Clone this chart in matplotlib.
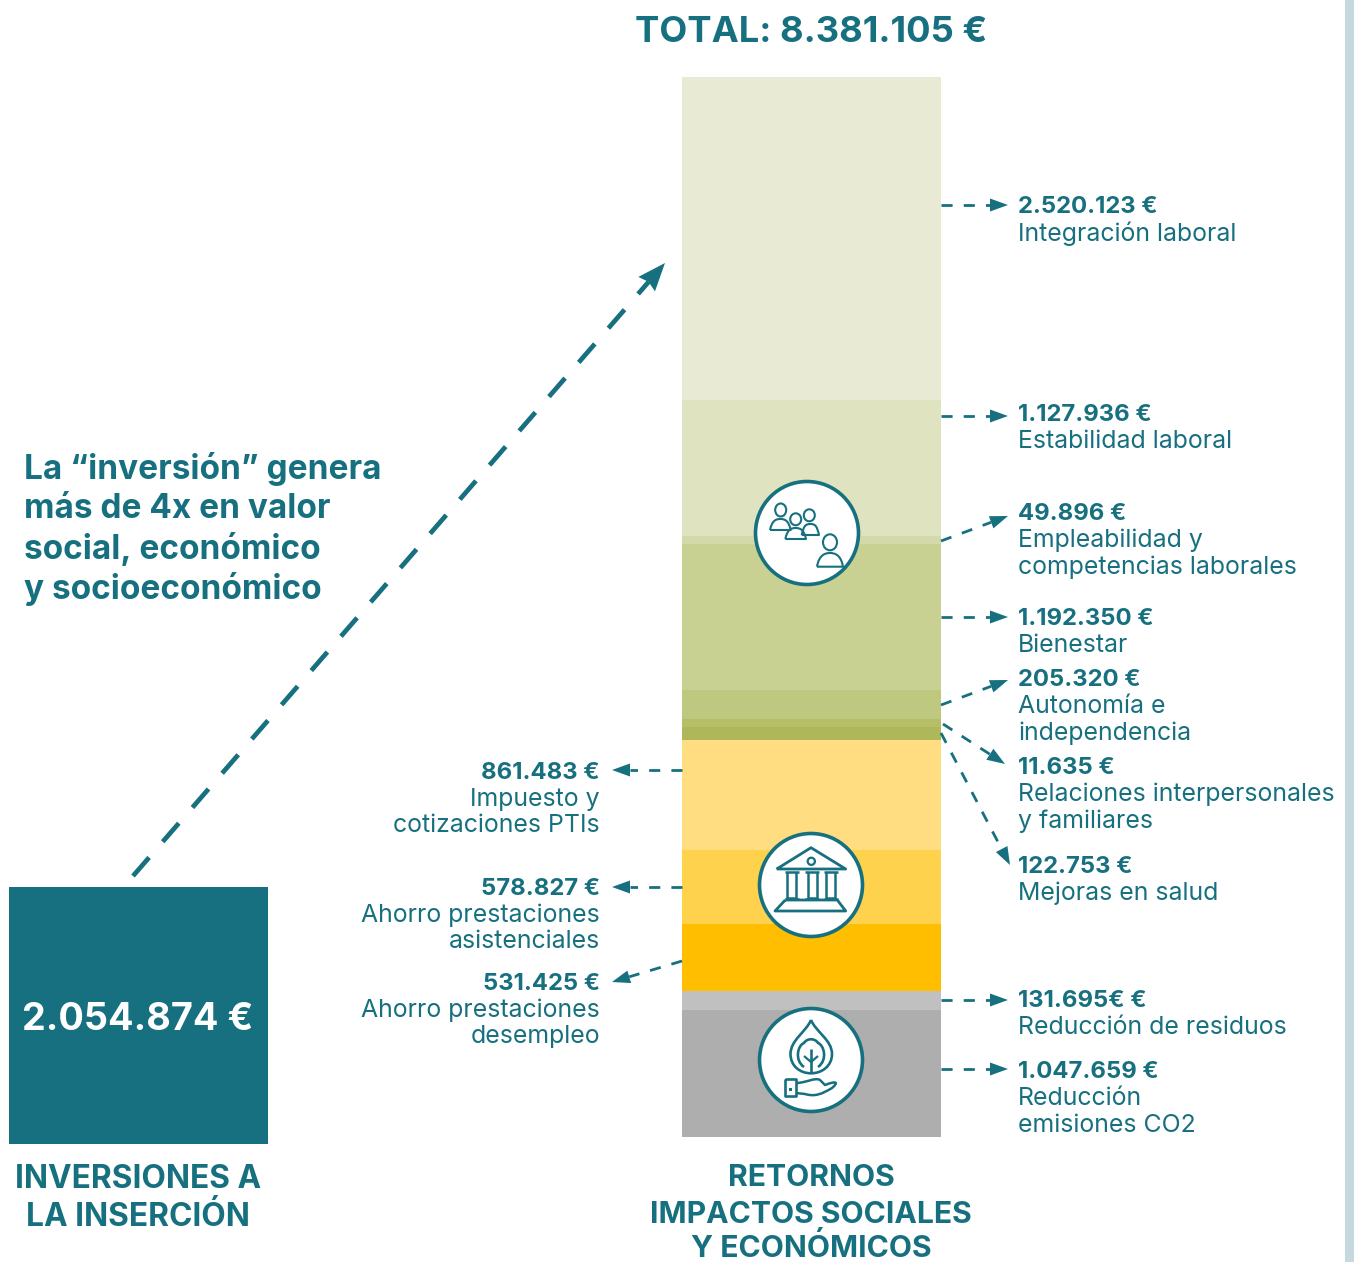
import numpy as np
import matplotlib
matplotlib.use("Agg")
import matplotlib.pyplot as plt
from matplotlib.patches import Circle, Ellipse, PathPatch, Polygon, Rectangle
from matplotlib.path import Path

W, H = 1354, 1262
TEAL = "#17707f"
plt.rcParams["font.family"] = ["Inter", "DejaVu Sans"]

# stacked segments, top to bottom, heights as drawn in the picture (thousand euro)
segments = [2554, 1075, 63, 1154, 229, 63, 103, 870, 585, 530, 150, 1004]
segment_colors = ["#e8ead3", "#dfe3bf", "#d3d9a8", "#c8d192", "#bfc87f", "#b6bf68", "#aeb85a",
                  "#ffdd80", "#ffd24d", "#ffbe00", "#c0c0c0", "#aeaeae"]
investment = 2054.874

right_amounts = ["2.520.123 €", "1.127.936 €", "49.896 €", "1.192.350 €", "205.320 €",
                 "11.635 €", "122.753 €", "131.695€ €", "1.047.659 €"]
right_names = [["Integración laboral"], ["Estabilidad laboral"],
               ["Empleabilidad y", "competencias laborales"], ["Bienestar"],
               ["Autonomía e", "independencia"], ["Relaciones interpersonales", "y familiares"],
               ["Mejoras en salud"], ["Reducción de residuos"], ["Reducción", "emisiones CO2"]]
right_y = [207, 415, 514, 619, 680, 768, 867, 1001, 1072]
right_arrows = [(941, 205, 1008, 205), (941, 416, 1008, 416), (941, 541, 1008, 516),
                (941, 617, 1008, 617), (941, 705, 1008, 680), (943, 724, 1005, 764),
                (941, 733, 1010, 865), (941, 1000, 1008, 1000), (941, 1069, 1008, 1069)]

left_amounts = ["861.483 €", "578.827 €", "531.425 €"]
left_names = [["Impuesto y", "cotizaciones PTIs"], ["Ahorro prestaciones", "asistenciales"],
              ["Ahorro prestaciones", "desempleo"]]
left_y = [773, 889, 984]
left_arrows = [(682, 770, 612, 770), (682, 887, 612, 887), (682, 961, 612, 982)]

note_lines = ["La “inversión” genera", "más de 4x en valor", "social, económico", "y socioeconómico"]


def px_axes(fig, x0, y0, x1, y1):
    return fig.add_axes([x0 / W, 1 - y1 / H, (x1 - x0) / W, (y1 - y0) / H])


fig = plt.figure(figsize=(W / 100, H / 100), dpi=100, facecolor="white")

# main stack
ax_bar = px_axes(fig, 682, 77, 941, 1137)
bottom = 0
for val, col in zip(segments[::-1], segment_colors[::-1]):
    ax_bar.bar(0, val, bottom=bottom, width=1, color=col, linewidth=0)
    bottom += val
ax_bar.set_xlim(-0.5, 0.5)
ax_bar.set_ylim(0, bottom)
ax_bar.axis("off")

# investment square
ax_inv = px_axes(fig, 9, 887, 268, 1144)
ax_inv.bar(0, investment, width=1, color=TEAL, linewidth=0)
ax_inv.set_xlim(-0.5, 0.5)
ax_inv.set_ylim(0, investment)
ax_inv.axis("off")

# overlay in pixel coordinates for the text, arrows and icons
ax = fig.add_axes([0, 0, 1, 1], facecolor="none")
ax.set_xlim(0, W)
ax.set_ylim(H, 0)
ax.axis("off")

ax.add_patch(Rectangle((1345, 0), 9, H, color="#c5d9df", lw=0))


def arrow(x0, y0, x1, y1, lw=2.0, dash=(4, 4), head_l=18, head_w=13, notch=0):
    d = np.array([x1 - x0, y1 - y0], float)
    d /= np.hypot(*d)
    n = np.array([-d[1], d[0]])
    tip = np.array([x1, y1], float)
    base = tip - d * head_l
    ax.plot([x0, base[0] + d[0] * notch], [y0, base[1] + d[1] * notch], color=TEAL, lw=lw, ls=(0, dash),
            solid_capstyle="butt")
    ax.add_patch(Polygon([tip, base + n * head_w / 2, base + d * notch, base - n * head_w / 2], color=TEAL, lw=0))


for a in right_arrows + left_arrows:
    arrow(*a)
arrow(133, 876, 665, 263, lw=3.4, dash=(5.2, 4.4), head_l=28, head_w=22, notch=3)

SIZE_BOLD = 17.2
SIZE = 17.9
for amount, names, y in zip(right_amounts, right_names, right_y):
    ax.text(1018, y, amount, color=TEAL, fontsize=SIZE_BOLD, fontweight="bold", va="center", ha="left")
    for i, name in enumerate(names):
        ax.text(1018, y + 26.5 * (i + 1), name, color=TEAL, fontsize=SIZE, va="center", ha="left")
for amount, names, y in zip(left_amounts, left_names, left_y):
    ax.text(600, y, amount, color=TEAL, fontsize=SIZE_BOLD, fontweight="bold", va="center", ha="right")
    for i, name in enumerate(names):
        ax.text(600, y + 26.5 * (i + 1), name, color=TEAL, fontsize=SIZE, va="center", ha="right")

for i, line in enumerate(note_lines):
    ax.text(24, 469 + 40 * i, line, color=TEAL, fontsize=24, fontweight="bold", va="center")

ax.text(811, 33, "TOTAL: 8.381.105 €", color=TEAL, fontsize=26.2, fontweight="bold", ha="center", va="center")
ax.text(138, 1020, "2.054.874 €", color="white", fontsize=27.2, fontweight="bold", ha="center", va="center")
for txt, y in [("INVERSIONES A", 1180), ("LA INSERCIÓN", 1217)]:
    ax.text(138, y, txt, color=TEAL, fontsize=22.8, fontweight="bold", ha="center", va="center")
for txt, y in [("RETORNOS", 1178), ("IMPACTOS SOCIALES", 1215), ("Y ECONÓMICOS", 1248)]:
    ax.text(811, y, txt, color=TEAL, fontsize=21.7, fontweight="bold", ha="center", va="center")


# icons
def outline(verts, codes=None, lw=1.5):
    ax.add_patch(PathPatch(Path(verts, codes), fc="none", ec=TEAL, lw=lw, zorder=6, joinstyle="round"))


def person(hx, hy, hw, hh, x0, x1, base, top):
    ax.add_patch(Ellipse((hx, hy), hw, hh, fc="none", ec=TEAL, lw=1.5, zorder=6))
    cx = (x0 + x1) / 2
    outline([(x0, base), (x0 + 2, top + 2), (cx - 5, top), (cx, top), (cx + 5, top), (x1 - 2, top + 2),
             (x1, base), (x0, base)],
            [Path.MOVETO, Path.CURVE4, Path.CURVE4, Path.CURVE4, Path.CURVE4, Path.CURVE4, Path.CURVE4, Path.LINETO])


for cx, cy in [(807, 533), (811, 885), (811, 1060)]:
    ax.add_patch(Circle((cx, cy), 51.5, fc="white", ec=TEAL, lw=2.6, zorder=5))

person(780.7, 510, 11, 13, 770, 790.7, 530, 519)
person(795.7, 519.3, 11, 12, 785.3, 806, 539, 528)
person(809.3, 515.3, 11, 12, 801.7, 819, 535, 524)
person(830, 542.3, 14, 16, 817, 843, 566.7, 553)

# bank
outline([(776.7, 869), (811, 847.7), (845.7, 869), (776.7, 869)], lw=2)
ax.add_patch(Circle((811.3, 861.3), 3.6, fc="none", ec=TEAL, lw=1.6, zorder=6))
for x in [791.7, 812.3, 830.7]:
    outline([(x - 4.5, 872), (x - 4.5, 898), (x + 4.5, 898), (x + 4.5, 872)], lw=1.8)
    outline([(x - 7, 872), (x + 7, 872)], lw=1.8)
    outline([(x - 7, 898.5), (x + 7, 898.5)], lw=1.8)
outline([(785.3, 900), (837.3, 900), (845.7, 911), (775, 911), (785.3, 900)], lw=2)

# drop, tree and hand
outline([(811, 1020), (806, 1032), (790.5, 1040), (790.5, 1054), (790.5, 1066), (800, 1073.3), (811, 1073.3),
         (822, 1073.3), (832, 1066), (832, 1054), (832, 1040), (816, 1032), (811, 1020)],
        [Path.MOVETO] + [Path.CURVE4] * 12, lw=1.9)
outline([(804, 1067), (794, 1060), (798, 1045), (804, 1043), (807, 1038), (815, 1038), (818, 1043),
         (824, 1045), (828, 1060), (818, 1067)],
        [Path.MOVETO] + [Path.CURVE4] * 9, lw=1.9)
outline([(811, 1049), (811, 1073)], lw=1.9)
outline([(804, 1056), (811, 1062), (818, 1056)], lw=1.6)
outline([(784.7, 1079.3), (795.7, 1079.3), (795.7, 1096), (784.7, 1096), (784.7, 1079.3)], lw=1.9)
ax.add_patch(Rectangle((789, 1088), 2.5, 2.5, color=TEAL, lw=0, zorder=6))
outline([(796, 1083), (806, 1083), (815, 1077), (820, 1080), (825, 1085), (838, 1080), (838, 1083),
         (832, 1088), (822, 1094), (815, 1097), (805, 1094), (796, 1093)],
        [Path.MOVETO] + [Path.CURVE4] * 3 + [Path.LINETO] + [Path.CURVE4] * 3 + [Path.CURVE4] * 3 + [Path.LINETO], lw=1.8)

fig.savefig("out.png", dpi=100, facecolor="white")
